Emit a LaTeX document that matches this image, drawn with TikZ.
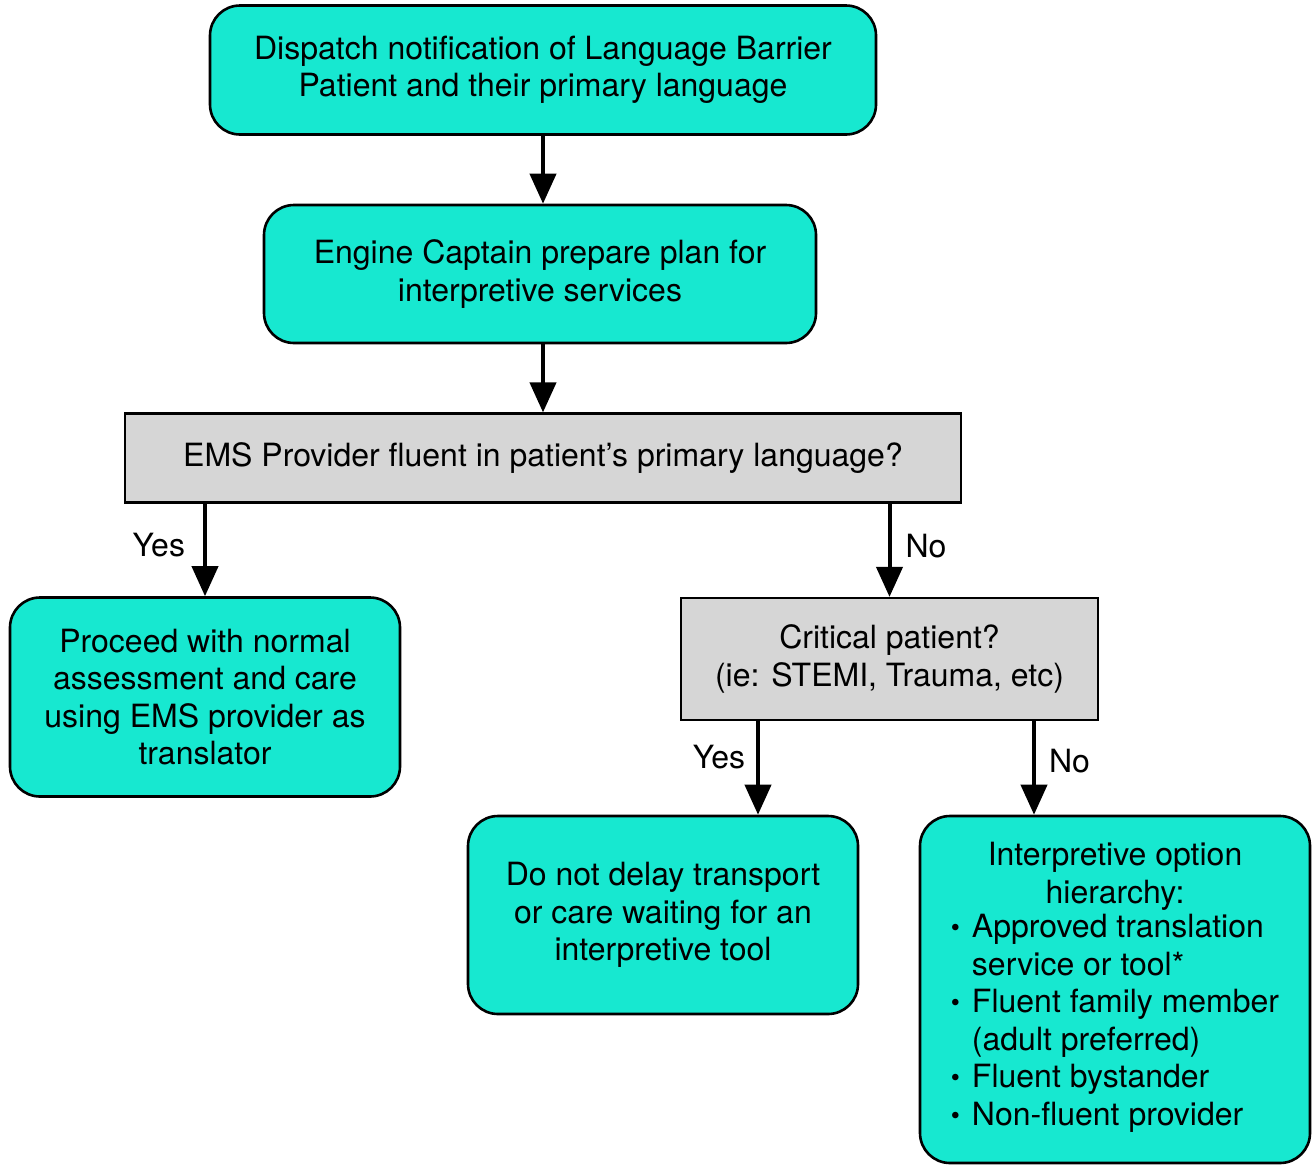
\documentclass[tikz,border=0pt]{standalone}
\usepackage{fontspec}
\setmainfont{TeX Gyre Heros}
\usetikzlibrary{arrows.meta}
\definecolor{teal1}{RGB}{23,232,208}
\definecolor{gray1}{RGB}{214,214,214}
\newcommand{\mybul}{\raisebox{1pt}{\fontsize{26}{28}\selectfont\textbullet}}
\begin{document}
\begin{tikzpicture}[x=1pt,y=-1pt,
  every node/.style={font=\fontsize{32}{37.5}\selectfont},
  tbox/.style={draw=black, line width=2.6pt, fill=teal1, rounded corners=30pt, align=center, inner sep=0pt},
  gbox/.style={draw=black, line width=2.2pt, fill=gray1, align=center, inner sep=0pt},
  arr/.style={line width=4pt, -{Triangle[length=30pt,width=26pt]}},
  lbl/.style={inner sep=2pt}]
\useasboundingbox (0,0) rectangle (1316,1165);
\node[tbox, minimum width=666pt, minimum height=129pt] (a) at (543,70)
  {Dispatch notification of Language Barrier\\Patient and their primary language};
\node[tbox, minimum width=552pt, minimum height=138pt] (b) at (540,274)
  {Engine Captain prepare plan for\\interpretive services};
\node[gbox, minimum width=836pt, minimum height=89pt] (c) at (543,458)
  {EMS Provider fluent in patient’s primary language?};
\node[tbox, minimum width=390pt, minimum height=199pt] (d) at (205,697)
  {Proceed with normal\\assessment and care\\using EMS provider as\\translator};
\node[gbox, minimum width=417pt, minimum height=122pt] (e) at (889.5,659)
  {Critical patient?\\(ie: STEMI, Trauma, etc)};
\node[tbox, minimum width=390pt, minimum height=198pt] (f) at (663,915)
  {Do not delay transport\\or care waiting for an\\interpretive tool};
\node[tbox, minimum width=390pt, minimum height=347pt] (g) at (1115,989.5)
  {Interpretive option\\hierarchy:\\
   \begin{tabular}{@{}l@{\hskip 12pt}l@{}}
   \mybul & Approved translation\\
   & service or tool*\\
   \mybul & Fluent family member\\
   & (adult preferred)\\
   \mybul & Fluent bystander\\
   \mybul & Non-fluent provider
   \end{tabular}};
\draw[arr] (a.south) -- (a.south |- b.north);
\draw[arr] (b.south -| a.south) -- (c.north);
\draw[arr] (d.north |- c.south) -- (d.north) node[lbl, pos=0.45, left=16pt] {Yes};
\draw[arr] (e.north |- c.south) -- (e.north) node[lbl, pos=0.45, right=12pt] {No};
\draw[arr] ([xshift=-131.5pt]e.south) -- ([xshift=95pt]f.north) node[lbl, pos=0.38, left=9pt] {Yes};
\draw[arr] ([xshift=144.5pt]e.south) -- ([xshift=-81pt]g.north) node[lbl, pos=0.43, right=11pt] {No};
\end{tikzpicture}
\end{document}
